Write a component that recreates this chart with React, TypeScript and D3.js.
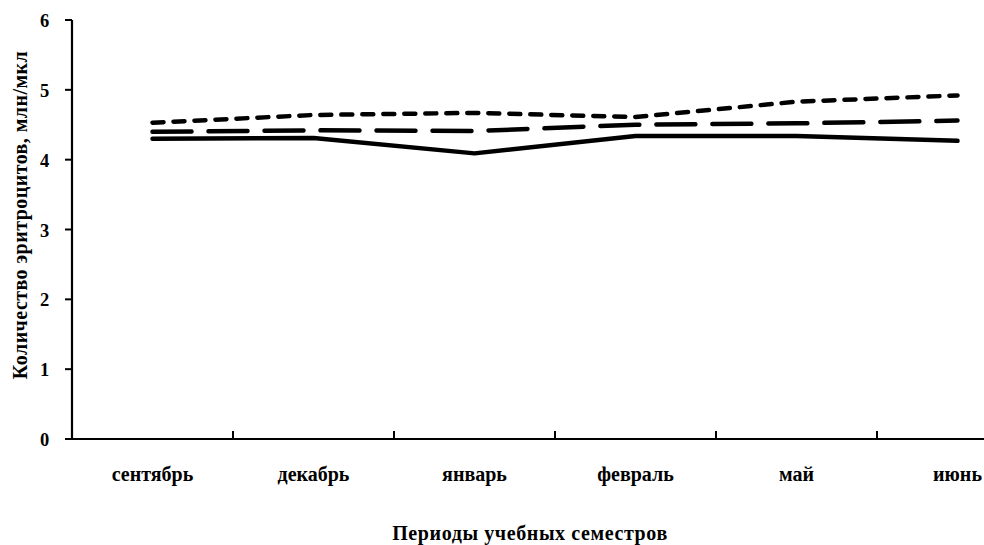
import React from "react";
import * as d3 from "d3";

const categories = ["сентябрь", "декабрь", "январь", "февраль", "май", "июнь"];
const seriesSolid = [4.3, 4.31, 4.09, 4.34, 4.34, 4.27];
const seriesLongDash = [4.4, 4.42, 4.41, 4.5, 4.52, 4.56];
const seriesShortDash = [4.53, 4.64, 4.67, 4.61, 4.83, 4.92];
const yTicks = [0, 1, 2, 3, 4, 5, 6];
const yTitle = "Количество эритроцитов, млн/мкл";
const xTitle = "Периоды учебных семестров";

const W = 984;
const H = 545;
const left = 72;
const bandW = 161;
const top = 20;
const bottom = 439;

export default function App() {
  const x = d3
    .scaleBand<string>()
    .domain(categories)
    .range([left, left + bandW * categories.length])
    .paddingInner(0)
    .paddingOuter(0);
  const y = d3.scaleLinear().domain([0, 6]).range([bottom, top]);
  const line = d3
    .line<number>()
    .x((_, i) => (x(categories[i]) as number) + x.bandwidth() / 2)
    .y((d) => y(d));

  const font = "'Liberation Serif', 'Times New Roman', serif";
  const series = [
    { data: seriesSolid, dash: undefined as string | undefined },
    { data: seriesLongDash, dash: "39 17" },
    { data: seriesShortDash, dash: "11 10" },
  ];

  return (
    <svg
      width={W}
      height={H}
      style={{ position: "absolute", left: 0, top: 0, background: "#fff" }}
      fontFamily={font}
      fontWeight="bold"
    >
      <rect x={0} y={0} width={W} height={H} fill="#fff" />
      {/* y axis */}
      <line x1={left} x2={left} y1={top} y2={bottom} stroke="#000" strokeWidth={2.2} />
      {yTicks.map((t) => (
        <g key={t}>
          <line x1={left - 7} x2={left} y1={y(t)} y2={y(t)} stroke="#000" strokeWidth={2} />
          <text x={44.5} y={y(t) + 7} fontSize={18.5} textAnchor="middle" fill="#000">
            {t}
          </text>
        </g>
      ))}
      {/* x axis */}
      <line x1={left - 7} x2={left + bandW * categories.length} y1={bottom} y2={bottom} stroke="#000" strokeWidth={2} />
      {categories.slice(1).map((c) => (
        <line
          key={c}
          x1={x(c) as number}
          x2={x(c) as number}
          y1={bottom}
          y2={bottom - 8}
          stroke="#000"
          strokeWidth={2}
        />
      ))}
      {categories.map((c) => (
        <text
          key={c}
          x={(x(c) as number) + x.bandwidth() / 2}
          y={481}
          fontSize={20}
          textAnchor="middle"
          fill="#000"
        >
          {c}
        </text>
      ))}
      {/* series */}
      {series.map((s, i) => (
        <path
          key={i}
          d={line(s.data) || ""}
          fill="none"
          stroke="#000"
          strokeWidth={4.5}
          strokeDasharray={s.dash}
          strokeLinecap="round"
          strokeLinejoin="round"
        />
      ))}
      {/* titles */}
      <text
        transform={`translate(27, 215) rotate(-90)`}
        fontSize={20}
        textAnchor="middle"
        fill="#000"
        letterSpacing={0.45}
      >
        {yTitle}
      </text>
      <text x={530} y={540} fontSize={20} textAnchor="middle" fill="#000" letterSpacing={0.6}>
        {xTitle}
      </text>
    </svg>
  );
}
